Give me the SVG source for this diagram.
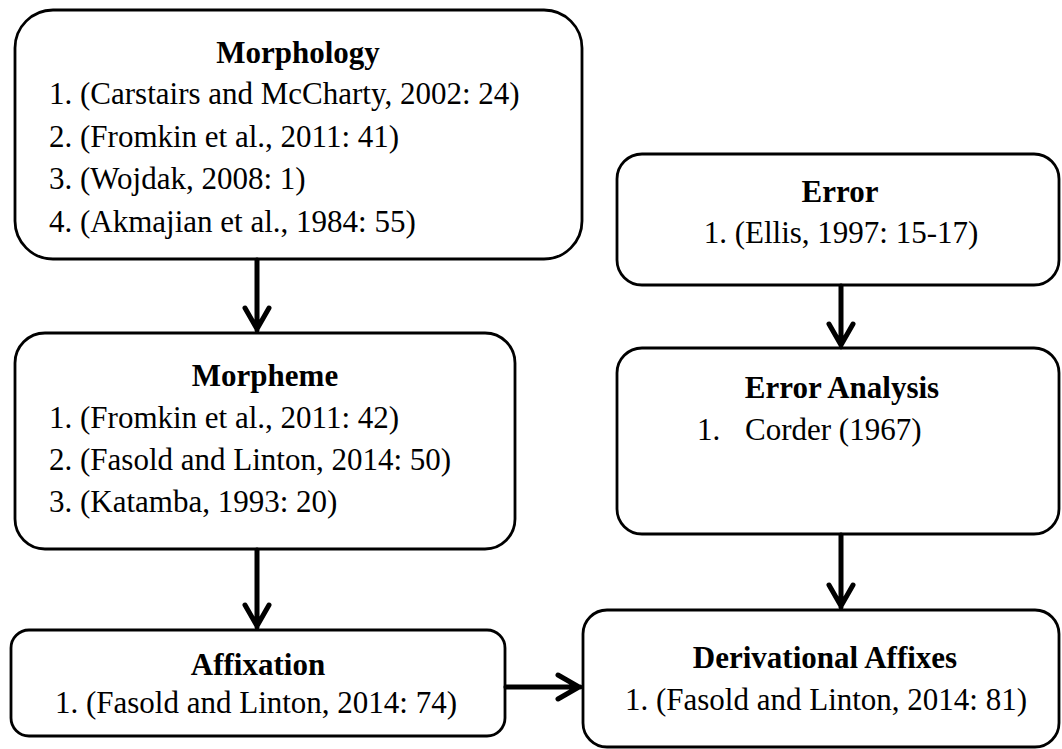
<svg xmlns="http://www.w3.org/2000/svg" width="1062" height="749" viewBox="0 0 1062 749">
<style>
.box{fill:#fff;stroke:#000;stroke-width:2.8}
.t{font-family:"Liberation Serif","Times New Roman",serif;font-size:31px;fill:#000}
.b{font-weight:bold;text-anchor:middle}
.m{text-anchor:middle}
.c{fill:none;stroke:#000;stroke-width:5;stroke-linecap:round;stroke-linejoin:miter}
</style>
<rect width="1062" height="749" fill="#fff"/>
<g id="morphology">
<rect class="box" x="15" y="10" width="567" height="249" rx="38"/>
<text class="t b" x="298" y="63">Morphology</text>
<text class="t" x="49" y="104">1. (Carstairs and McCharty, 2002: 24)</text>
<text class="t" x="49" y="147">2. (Fromkin et al., 2011: 41)</text>
<text class="t" x="49" y="189">3. (Wojdak, 2008: 1)</text>
<text class="t" x="49" y="232">4. (Akmajian et al., 1984: 55)</text>
</g>
<g id="error">
<rect class="box" x="617" y="154" width="442" height="131" rx="25"/>
<text class="t b" x="840" y="202">Error</text>
<text class="t m" x="841" y="243">1. (Ellis, 1997: 15-17)</text>
</g>
<g id="morpheme">
<rect class="box" x="15" y="333" width="500" height="216" rx="30"/>
<text class="t b" x="265" y="386">Morpheme</text>
<text class="t" x="49" y="428">1. (Fromkin et al., 2011: 42)</text>
<text class="t" x="49" y="470">2. (Fasold and Linton, 2014: 50)</text>
<text class="t" x="49" y="512">3. (Katamba, 1993: 20)</text>
</g>
<g id="error-analysis">
<rect class="box" x="617" y="348" width="442" height="186" rx="25"/>
<text class="t b" x="842" y="398">Error Analysis</text>
<text class="t" x="697" y="440">1.</text>
<text class="t" x="745" y="440">Corder (1967)</text>
</g>
<g id="affixation">
<rect class="box" x="11" y="630" width="494" height="106" rx="18"/>
<text class="t b" x="258" y="675">Affixation</text>
<text class="t m" x="256" y="713">1. (Fasold and Linton, 2014: 74)</text>
</g>
<g id="derivational-affixes">
<rect class="box" x="583" y="610" width="476" height="137" rx="24"/>
<text class="t b" x="825" y="668">Derivational Affixes</text>
<text class="t m" x="826" y="710">1. (Fasold and Linton, 2014: 81)</text>
</g>
<g id="connectors">
<path class="c" d="M257 260 V330 M245 308 L257 329 L269 308"/>
<path class="c" d="M841 286 V345 M829 324 L841 345 L853 324"/>
<path class="c" d="M257 550 V627 M245 605 L257 626 L269 605"/>
<path class="c" d="M841 535 V607 M829 585 L841 606 L853 585"/>
<path class="c" d="M506 687 H580 M558 675 L579 687 L558 699"/>
</g>
</svg>
